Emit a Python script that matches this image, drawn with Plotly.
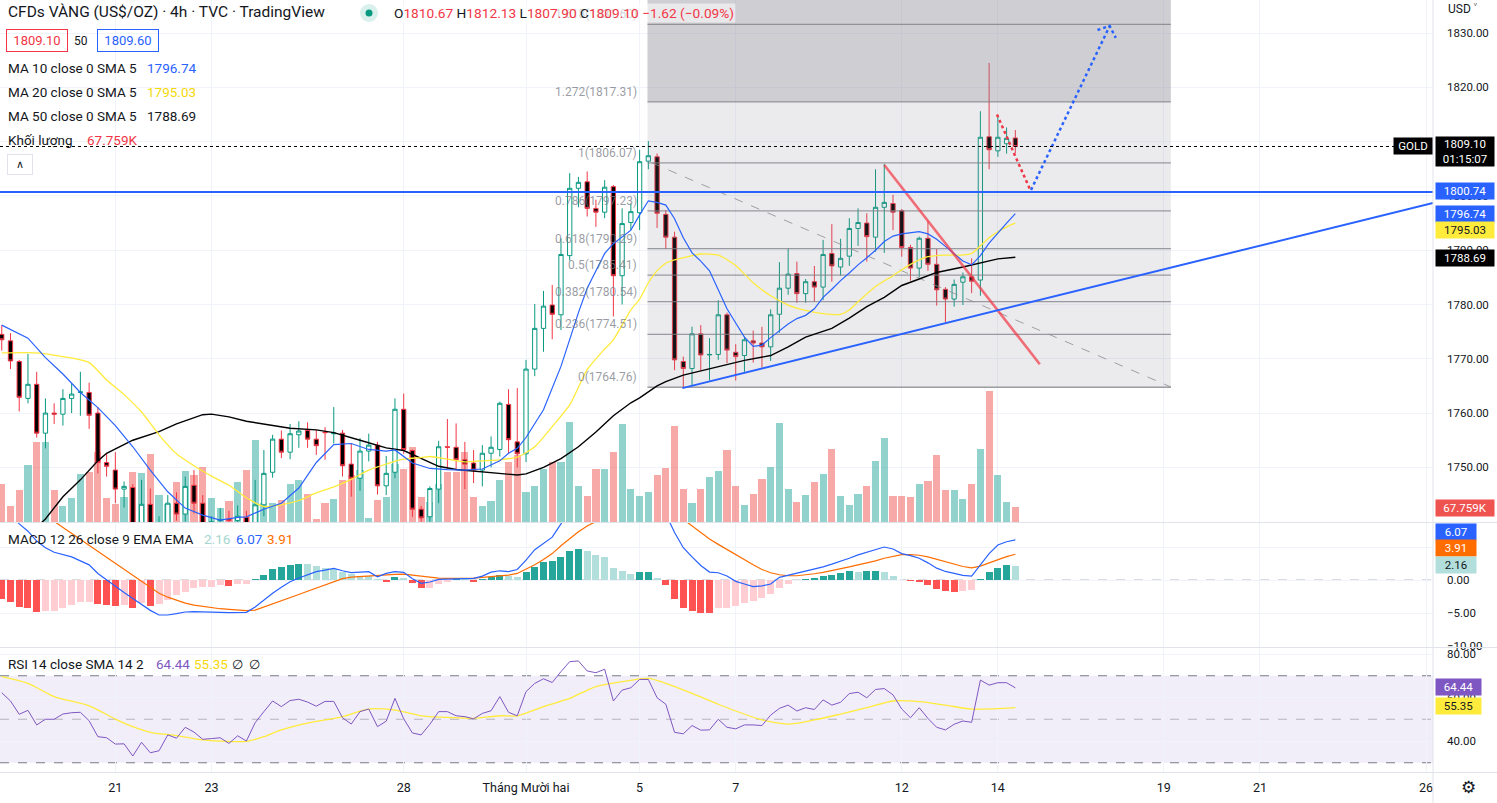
import plotly.graph_objects as go

W, H = 1497, 803
FONT = "Roboto, 'Noto Sans', sans-serif"

# ---------------- data ----------------
OPEN = [1774.5, 1773.3, 1769.5, 1762.7, 1765.3, 1756.3, 1760.0, 1759.8, 1762.7, 1763.8,
        1763.8, 1760.0, 1750.9, 1749.5, 1746.0, 1746.3, 1738.8, 1743.2, 1738.0, 1739.5,
        1743.4, 1741.4, 1746.7, 1743.4, 1739.5, 1740.2, 1740.5, 1740.2, 1740.8, 1738.8,
        1743.1, 1749.1, 1755.2, 1752.8, 1756.0, 1756.8, 1755.2, 1756.5, 1756.2, 1756.3,
        1750.6, 1748.0, 1753.0, 1754.1, 1746.6, 1749.1, 1760.7, 1753.1, 1742.3, 1740.9,
        1746.0, 1753.8, 1753.7, 1751.4, 1750.8, 1749.5, 1752.6, 1753.3, 1761.6, 1754.7,
        1752.5, 1768.1, 1775.6, 1779.9, 1778.1, 1789.0, 1801.4, 1802.6, 1797.7, 1797.0,
        1801.7, 1785.3, 1795.1, 1796.9, 1806.4, 1807.2, 1796.6, 1792.4, 1769.5, 1768.2,
        1774.6, 1770.7, 1770.8, 1778.1, 1771.2, 1770.6, 1773.3, 1772.9, 1772.2, 1778.2,
        1783.0, 1785.7, 1782.0, 1784.2, 1783.2, 1789.4, 1786.9, 1788.9, 1794.0, 1795.0,
        1792.4, 1797.9, 1798.6, 1797.3, 1790.5, 1786.7, 1792.2, 1787.4, 1782.8, 1781.0,
        1784.1, 1785.1, 1784.5, 1810.9, 1808.3, 1809.6, 1810.67]
HIGH = [1776.2, 1774.7, 1769.8, 1770.9, 1767.6, 1762.7, 1761.8, 1764.4, 1765.5, 1767.6,
        1765.6, 1761.1, 1752.6, 1752.8, 1747.4, 1746.9, 1747.7, 1746.1, 1741.0, 1744.9,
        1745.4, 1748.3, 1749.5, 1744.9, 1741.0, 1742.5, 1742.0, 1743.0, 1742.0, 1747.7,
        1753.2, 1756.0, 1756.8, 1758.0, 1758.5, 1758.3, 1756.9, 1757.4, 1761.1, 1756.9,
        1754.3, 1755.4, 1756.2, 1754.7, 1752.1, 1762.7, 1763.6, 1753.3, 1742.9, 1746.5,
        1754.9, 1758.9, 1758.1, 1754.7, 1753.2, 1754.1, 1755.7, 1762.1, 1764.4, 1764.6,
        1769.8, 1780.1, 1782.5, 1783.6, 1792.2, 1804.2, 1803.5, 1804.5, 1799.3, 1802.9,
        1802.0, 1797.7, 1798.6, 1808.5, 1810.1, 1807.8, 1797.4, 1793.4, 1770.4, 1775.9,
        1776.2, 1773.8, 1780.8, 1778.5, 1772.7, 1774.1, 1775.2, 1775.9, 1779.1, 1787.8,
        1790.3, 1787.9, 1784.7, 1787.1, 1791.9, 1794.8, 1792.1, 1795.9, 1797.7, 1796.8,
        1804.9, 1805.9, 1800.2, 1797.6, 1791.0, 1792.5, 1795.4, 1790.2, 1783.2, 1784.6,
        1785.9, 1788.5, 1815.6, 1824.5, 1814.6, 1812.6, 1812.13]
LOW = [1771.5, 1768.1, 1760.3, 1761.8, 1755.5, 1753.5, 1758.0, 1757.7, 1760.0, 1759.5,
       1757.1, 1748.9, 1748.3, 1743.4, 1742.6, 1736.0, 1737.5, 1736.5, 1736.0, 1738.0,
       1740.2, 1740.0, 1741.5, 1737.0, 1737.5, 1739.5, 1738.5, 1739.0, 1737.5, 1737.0,
       1741.0, 1748.1, 1751.7, 1751.5, 1753.6, 1753.6, 1752.3, 1751.4, 1754.4, 1748.3,
       1744.6, 1745.7, 1751.1, 1745.0, 1744.9, 1748.0, 1752.5, 1740.9, 1740.0, 1740.0,
       1743.4, 1749.8, 1749.4, 1746.0, 1747.1, 1746.5, 1750.0, 1752.0, 1752.5, 1750.0,
       1751.0, 1766.8, 1771.3, 1773.6, 1775.3, 1788.1, 1797.9, 1796.2, 1794.3, 1795.9,
       1777.8, 1780.0, 1793.7, 1793.7, 1804.9, 1794.1, 1790.2, 1767.9, 1764.6, 1764.9,
       1767.9, 1766.0, 1769.8, 1769.2, 1766.0, 1767.6, 1769.3, 1768.4, 1769.6, 1774.8,
       1781.8, 1780.3, 1780.3, 1780.5, 1780.8, 1784.2, 1785.3, 1787.1, 1790.8, 1787.9,
       1789.7, 1789.5, 1793.7, 1788.8, 1784.4, 1785.0, 1786.2, 1779.8, 1776.7, 1779.6,
       1779.9, 1782.1, 1781.6, 1804.9, 1807.2, 1807.8, 1807.90]
CLOSE = [1773.5, 1769.6, 1762.9, 1765.3, 1756.3, 1760.0, 1759.8, 1762.7, 1763.5, 1763.9,
         1759.6, 1750.9, 1750.2, 1746.0, 1746.5, 1738.5, 1743.2, 1738.0, 1739.5, 1743.4,
         1741.4, 1746.5, 1743.4, 1739.5, 1740.0, 1740.3, 1740.2, 1741.0, 1739.0, 1743.1,
         1748.9, 1755.2, 1752.8, 1756.2, 1756.7, 1755.2, 1754.0, 1756.4, 1756.3, 1750.3,
         1748.0, 1753.0, 1754.1, 1746.6, 1748.9, 1760.7, 1753.3, 1742.3, 1740.7, 1746.1,
         1753.8, 1753.7, 1751.4, 1750.6, 1749.5, 1752.6, 1753.7, 1761.8, 1755.1, 1752.5,
         1768.1, 1775.6, 1779.7, 1778.2, 1789.2, 1801.4, 1802.5, 1797.7, 1797.0, 1801.6,
         1785.3, 1794.9, 1797.1, 1806.3, 1807.4, 1796.8, 1792.4, 1769.8, 1768.2, 1774.6,
         1770.7, 1770.8, 1778.1, 1771.6, 1770.4, 1773.5, 1772.9, 1772.2, 1778.1, 1783.0,
         1785.6, 1782.0, 1784.2, 1783.2, 1789.2, 1787.1, 1788.5, 1794.0, 1795.1, 1792.5,
         1797.9, 1798.8, 1797.0, 1790.5, 1786.7, 1792.2, 1787.4, 1782.7, 1781.0, 1783.7,
         1785.1, 1784.3, 1810.8, 1808.5, 1810.8, 1810.6, 1809.10]
VOLUME_K = [171, 72, 144, 256, 360, 360, 144, 72, 108, 216,
            225, 315, 108, 81, 112, 225, 220, 306, 121, 81,
            180, 229, 211, 247, 108, 63, 94, 180, 234, 369,
            85, 85, 99, 171, 189, 126, 14, 85, 103, 189,
            211, 234, 18, 99, 112, 261, 238, 337, 112, 90,
            171, 225, 225, 315, 112, 72, 94, 189, 270, 301,
            135, 162, 238, 270, 270, 450, 162, 117, 238, 238,
            315, 441, 148, 117, 135, 211, 243, 432, 148, 85,
            148, 202, 229, 324, 162, 76, 126, 193, 247, 445,
            148, 90, 121, 180, 216, 328, 117, 76, 126, 162,
            274, 378, 117, 117, 112, 171, 184, 301, 144, 144,
            103, 171, 328, 589, 211, 90, 67.759]

MA10_X = [0, 3, 5, 7, 9, 11, 13, 15, 17, 19, 21, 23, 25, 27, 28, 30, 32, 34, 36, 38,
          40, 42, 44, 45, 47, 49, 51, 53, 55, 57, 58, 59, 60, 61, 62, 64, 66, 67, 69, 70,
          71, 72, 73, 74, 75, 76, 77, 78, 79, 80, 81, 82, 83, 84, 85, 86, 87, 88, 89, 90,
          91, 92, 93, 94, 95, 96, 97, 98, 99, 100, 101, 102, 103, 104, 105, 106, 107, 108,
          109, 110, 111, 112, 113, 114, 115, 116]
MA10 = [1776.2, 1773.8, 1770.2, 1767.2, 1763.8, 1761.0, 1757.7, 1753.8, 1749.5, 1745.5,
        1742.5, 1741.2, 1740.3, 1740.8, 1740.9, 1742.3, 1743.4, 1746.2, 1750.9, 1754.2,
        1754.4, 1753.3, 1753.0, 1753.2, 1750.8, 1749.8, 1749.6, 1749.5, 1749.7, 1751.2,
        1752.6, 1753.5, 1755.5, 1758.0, 1760.6, 1768.6, 1778.5, 1783.0, 1789.4, 1791.2,
        1792.5, 1793.7, 1796.5, 1799.1, 1798.8, 1798.3, 1795.8, 1792.3, 1789.5, 1788.0,
        1786.2, 1782.8, 1779.2, 1776.6, 1774.0, 1772.3, 1772.5, 1773.9, 1775.2, 1776.4,
        1777.4, 1778.0, 1779.2, 1781.3, 1782.8, 1784.4, 1785.8, 1787.3, 1788.6, 1790.0,
        1791.6, 1792.6, 1793.0, 1793.2, 1793.4, 1793.0, 1792.0, 1790.7, 1789.3, 1788.0,
        1787.3, 1789.0, 1791.3, 1793.2, 1795.0, 1796.74]
MA20_X = [0, 4, 7, 10, 12, 14, 16, 18, 20, 22, 24, 26, 28, 30, 32, 34, 36, 38, 40, 42,
          44, 46, 48, 49, 51, 53, 55, 57, 59, 61, 63, 65, 67, 69, 70, 72, 73, 74, 75, 76,
          77, 78, 80, 82, 84, 86, 88, 90, 92, 94, 96, 97, 98, 100, 102, 104, 106, 108, 110,
          111, 112, 113, 114, 115, 116]
MA20 = [1771.1, 1771.1, 1770.4, 1769.3, 1766.1, 1763.4, 1760.2, 1756.0, 1752.5, 1750.3,
        1748.4, 1746.7, 1744.4, 1742.8, 1743.1, 1743.9, 1745.3, 1746.4, 1747.8, 1749.5,
        1750.6, 1751.5, 1751.8, 1752.0, 1751.5, 1751.0, 1751.2, 1751.4, 1751.9, 1753.8,
        1757.5, 1761.5, 1768.0, 1771.8, 1773.5, 1779.0, 1781.0, 1784.0, 1786.2, 1787.6,
        1788.2, 1788.6, 1789.3, 1789.1, 1787.2, 1784.0, 1781.6, 1779.9, 1778.9, 1778.3,
        1778.2, 1779.0, 1780.5, 1783.3, 1785.3, 1787.4, 1788.8, 1789.1, 1789.1, 1789.4,
        1790.8, 1792.3, 1793.4, 1794.3, 1795.03]
MA50_X = [0, 2, 4, 5, 7, 9, 11, 12, 15, 18, 20, 23, 24, 26, 28, 31, 33, 36, 38, 41,
          43, 44, 46, 48, 50, 52, 55, 57, 59, 60, 62, 64, 66, 68, 70, 72, 73, 75, 76, 78,
          81, 83, 85, 88, 90, 92, 95, 97, 99, 101, 103, 105, 107, 110, 112, 114, 116]
MA50 = [1733.0, 1736.0, 1739.0, 1740.5, 1744.6, 1747.7, 1751.2, 1752.6, 1755.0, 1756.6,
        1758.0, 1759.7, 1759.8, 1759.3, 1758.5, 1757.7, 1757.2, 1756.9, 1756.4, 1755.0,
        1754.1, 1753.6, 1753.1, 1751.6, 1750.2, 1749.6, 1749.2, 1748.9, 1748.6, 1748.8,
        1750.0, 1751.6, 1753.8, 1756.5, 1759.5, 1761.9, 1762.8, 1765.0, 1765.8, 1767.0,
        1768.2, 1768.9, 1769.7, 1770.6, 1772.2, 1774.0, 1775.6, 1777.5, 1779.6, 1781.3,
        1783.5, 1784.7, 1785.9, 1786.9, 1787.7, 1788.4, 1788.69]

MACD = [10.9, 9.9, 8.5, 7.4, 5.9, 4.9, 4.2, 3.8, 3.5, 2.9,
        2.3, 1.0, 0.0, -1.0, -1.9, -2.8, -3.7, -4.6, -5.3, -5.3,
        -5.1, -4.85, -4.8, -4.8, -4.9, -4.9, -4.95, -4.95, -4.9, -4.1,
        -3.0, -2.0, -1.1, -0.25, 0.3, 0.76, 1.26, 1.5, 1.77, 1.4,
        1.11, 1.2, 1.26, 0.5, 1.0, 1.26, 1.16, 0.2, -0.5, -0.3,
        0.1, 0.15, 0.15, 0.2, 0.25, 0.6, 1.2, 1.4, 1.26, 1.6,
        3.0, 4.6, 5.6, 6.5, 8.5, 10.8, 12.1, 12.7, 12.8, 13.0,
        11.8, 11.6, 11.3, 11.8, 12.05, 11.2, 10.0, 7.2, 4.9, 3.5,
        2.2, 1.2, 1.1, 0.6, -0.2, -0.6, -1.0, -0.9, -0.6, 0.4,
        0.7, 1.0, 1.3, 1.7, 2.0, 2.4, 2.8, 3.3, 3.8, 4.2,
        4.6, 5.0, 4.7, 4.0, 3.7, 3.3, 2.6, 1.8, 1.3, 1.0,
        0.7, 0.6, 2.3, 4.0, 5.3, 5.8, 6.07]
SIGNAL = [13.8, 13.2, 12.5, 11.6, 10.7, 9.7, 8.8, 7.9, 7.0, 6.2,
          5.3, 4.4, 3.4, 2.5, 1.6, 0.7, -0.2, -1.1, -2.0, -2.6,
          -3.1, -3.5, -3.8, -4.0, -4.2, -4.35, -4.45, -4.55, -4.65, -4.55,
          -4.1, -3.6, -3.1, -2.7, -2.2, -1.7, -1.2, -0.8, -0.2, 0.2,
          0.45, 0.55, 0.65, 0.7, 0.75, 0.85, 0.9, 0.75, 0.55, 0.4,
          0.3, 0.25, 0.25, 0.25, 0.3, 0.4, 0.5, 0.6, 0.75, 1.0,
          1.6, 2.3, 3.1, 4.0, 5.2, 6.3, 7.3, 8.2, 8.9, 9.5,
          9.9, 10.2, 10.4, 10.6, 10.8, 10.9, 10.7, 10.1, 9.2, 8.2,
          7.2, 6.2, 5.4, 4.6, 3.9, 3.0, 2.3, 1.6, 1.1, 0.8,
          0.65, 0.65, 0.75, 0.95, 1.15, 1.4, 1.7, 2.0, 2.3, 2.55,
          2.9, 3.3, 3.6, 3.85, 3.85, 3.75, 3.5, 3.15, 2.8, 2.4,
          2.05, 1.85, 2.1, 2.6, 3.1, 3.55, 3.91]
HIST = [-2.88, -3.29, -4.04, -4.24, -4.8, -4.75, -4.65, -4.24, -3.79, -3.33,
        -3.32, -3.64, -3.79, -3.94, -3.84, -4.24, -3.54, -3.89, -3.64, -3.03,
        -2.32, -1.77, -1.26, -1.11, -1.01, -0.76, -0.91, -0.61, -0.60, 0.15,
        0.76, 1.62, 1.97, 2.32, 2.47, 2.42, 2.12, 1.87, 1.62, 1.21,
        0.86, 0.66, 0.61, 0.10, -0.25, 0.45, 0.25, -0.5, -1.16, -1.15,
        -0.61, -0.25, 0.15, 0.10, -0.25, 0.15, 0.40, 0.76, 0.61, 0.5,
        1.14, 2.0, 2.77, 2.92, 3.55, 4.47, 4.77, 4.47, 3.85, 3.55,
        1.85, 1.4, 0.93, 1.24, 1.25, 0.26, -0.71, -2.87, -4.26, -4.72,
        -5.03, -5.04, -4.26, -4.25, -3.95, -3.49, -3.18, -2.72, -2.1, -1.18,
        -0.56, 0.05, 0.21, 0.36, 0.67, 0.77, 1.13, 1.39, 1.29, 1.39,
        1.40, 1.29, 0.62, 0.05, -0.1, -0.3, -0.8, -1.4, -1.66, -1.8,
        -1.66, -1.5, 0.21, 1.29, 1.85, 2.3, 2.16]
HIST_BEFORE_FIRST = -2.6

RSI = [62.2, 58.4, 52.3, 54.1, 47.4, 50.0, 50.0, 52.4, 53.0, 53.2,
       49.3, 42.0, 41.5, 38.6, 38.7, 33.1, 39.4, 34.6, 35.5, 42.8,
       41.3, 46.3, 44.1, 40.8, 41.1, 41.5, 38.9, 42.4, 40.0, 48.4,
       53.5, 58.4, 55.8, 58.6, 59.2, 57.9, 56.0, 58.2, 58.2, 50.7,
       47.8, 53.5, 54.7, 46.6, 49.1, 59.6, 50.2, 43.7, 42.8, 47.7,
       53.5, 53.5, 51.6, 51.2, 50.2, 52.7, 53.9, 60.4, 53.2, 51.6,
       62.7, 66.5, 68.6, 66.9, 71.9, 76.5, 76.8, 72.2, 71.4, 73.0,
       58.4, 63.4, 64.5, 68.3, 68.3, 59.9, 56.9, 44.0, 43.3, 47.1,
       45.0, 45.1, 50.0, 46.3, 45.6, 47.4, 47.4, 47.1, 51.9, 55.0,
       56.5, 53.8, 55.3, 54.5, 58.9, 56.5, 57.8, 61.8, 62.4, 59.9,
       63.7, 64.1, 61.2, 54.7, 50.7, 55.3, 50.4, 46.3, 45.1, 47.7,
       49.2, 48.6, 68.0, 65.7, 66.8, 66.8, 64.44]
RSI_SMA_X = [0, 3, 6, 10, 13, 15, 17, 20, 23, 26, 28, 30, 32, 35, 39, 42, 45, 48, 51, 54,
             57, 59, 62, 65, 68, 71, 74, 76, 79, 82, 84, 87, 90, 93, 96, 99, 102, 105, 108,
             111, 116]
RSI_SMA = [69.6, 66.5, 60.4, 56.2, 50.1, 46.6, 44.0, 42.5, 40.5, 39.8, 39.8, 42.0, 45.1,
           48.2, 51.2, 54.7, 54.2, 51.6, 50.9, 50.4, 51.6, 51.6, 55.8, 59.6, 65.0, 67.3,
           68.8, 66.5, 61.9, 56.9, 53.8, 49.7, 47.8, 49.7, 52.4, 55.3, 58.4, 58.1, 56.5,
           54.7, 55.35]

DATE_TICK_IDX = [13, 24, 46, 60, 73, 84, 103, 114, 133, 144, 163]
DATE_TICK_TEXT = ["21", "23", "28", "Tháng Mười hai", "5", "7", "12", "14", "19", "21", "26"]
PRICE_TICKS = [1750, 1760, 1770, 1780, 1790, 1800, 1810, 1820, 1830]

FIB_LOW, FIB_HIGH = 1764.76, 1806.07
FIB_LEVELS = [0, 0.236, 0.382, 0.5, 0.618, 0.786, 1, 1.272, 1.618]
FIB_NAMES = ["0", "0.236", "0.382", "0.5", "0.618", "0.786", "1", "1.272", "1.618"]
FIB_X = [73.9, 133.8]
FIB_TOP = 1860

HLINE_PRICE = 1800.74
LAST_PRICE = 1809.10
BLUE_TL_X, BLUE_TL_Y = [77.9, 163.8], [1764.6, 1798.7]
RED_TL_X, RED_TL_Y = [101.0, 118.8], [1805.7, 1769.0]
GRAY_TL_X, GRAY_TL_Y = [74.4, 133.8], [1806.1, 1764.8]
RED_PATH_X, RED_PATH_Y = [113.9, 117.7], [1815.0, 1801.1]
BLUE_PATH_X, BLUE_PATH_Y = [117.8, 126.8], [1801.1, 1831.3]
BLUE_HEAD_X, BLUE_HEAD_Y = [125.4, 126.8, 127.5], [1830.55, 1831.3, 1829.1]

N = len(CLOSE)
for arr in (OPEN, HIGH, LOW, VOLUME_K, MACD, SIGNAL, HIST, RSI):
    assert len(arr) == N, len(arr)
assert len(MA10_X) == len(MA10) and len(MA20_X) == len(MA20) and len(MA50_X) == len(MA50)
assert len(RSI_SMA_X) == len(RSI_SMA)
X = list(range(N))

# ---------------- colours ----------------
UP, DN = "#089981", "#F23645"
GRID = "#F0F3FA"
SEP = "#E0E3EB"
TXT = "#131722"

vol_colors = ["rgba(38,166,154,0.5)" if c >= o else "rgba(239,83,80,0.5)" for o, c in zip(OPEN, CLOSE)]
hist_colors = []
prev = HIST_BEFORE_FIRST
for v in HIST:
    if v >= 0:
        hist_colors.append("#26A69A" if v >= prev else "#B2DFDB")
    else:
        hist_colors.append("#FF5252" if v < prev else "#FFCDD2")
    prev = v

# ---------------- geometry ----------------
XD = 1433 / W
XR = [-0.2, 163.8]


def dom(top, bot):
    return [1 - bot / H, 1 - top / H]


fig = go.Figure()

# volume (base axis of main pane, drawn beneath everything else)
fig.add_trace(go.Bar(x=X, y=VOLUME_K, marker=dict(color=vol_colors, line=dict(width=0)),
                     width=0.82, xaxis="x", yaxis="y", hoverinfo="skip"))

# fib retracement background + levels (drawn before the candles)
fib_prices = [FIB_LOW + l * (FIB_HIGH - FIB_LOW) for l in FIB_LEVELS]
fx0, fx1 = FIB_X
fig.add_trace(go.Scatter(x=[fx0, fx1, fx1, fx0, fx0], y=[fib_prices[0], fib_prices[0], fib_prices[7], fib_prices[7], fib_prices[0]],
                         mode="lines", fill="toself", fillcolor="rgba(128,128,140,0.16)", line=dict(width=0),
                         xaxis="x", yaxis="y2", hoverinfo="skip"))
fig.add_trace(go.Scatter(x=[fx0, fx1, fx1, fx0, fx0], y=[fib_prices[7], fib_prices[7], FIB_TOP, FIB_TOP, fib_prices[7]],
                         mode="lines", fill="toself", fillcolor="rgba(128,128,140,0.38)", line=dict(width=0),
                         xaxis="x", yaxis="y2", hoverinfo="skip"))
lx, ly = [], []
for p in fib_prices:
    lx += [fx0, fx1, None]
    ly += [p, p, None]
fig.add_trace(go.Scatter(x=lx, y=ly, mode="lines", line=dict(color="rgba(125,125,135,0.75)", width=1.3),
                         xaxis="x", yaxis="y2", hoverinfo="skip"))
fig.add_trace(go.Scatter(x=GRAY_TL_X, y=GRAY_TL_Y, mode="lines",
                         line=dict(color="rgba(140,140,145,0.8)", width=1, dash="dash"),
                         xaxis="x", yaxis="y2", hoverinfo="skip"))

# candles
fig.add_trace(go.Candlestick(x=X, open=OPEN, high=HIGH, low=LOW, close=CLOSE,
                             xaxis="x", yaxis="y2", whiskerwidth=0,
                             increasing=dict(line=dict(color=UP, width=1), fillcolor="#FFFFFF"),
                             decreasing=dict(line=dict(color=DN, width=1), fillcolor="#000000"),
                             hoverinfo="skip"))
# moving averages
fig.add_trace(go.Scatter(x=MA50_X, y=MA50, mode="lines", line=dict(color="#000000", width=1.4),
                         xaxis="x", yaxis="y2", hoverinfo="skip"))
fig.add_trace(go.Scatter(x=MA20_X, y=MA20, mode="lines", line=dict(color="#FFEB3B", width=1.3, shape="spline", smoothing=0.6),
                         xaxis="x", yaxis="y2", hoverinfo="skip"))
fig.add_trace(go.Scatter(x=MA10_X, y=MA10, mode="lines", line=dict(color="#2962FF", width=1.2),
                         xaxis="x", yaxis="y2", hoverinfo="skip"))
# drawings
fig.add_trace(go.Scatter(x=RED_TL_X, y=RED_TL_Y, mode="lines", line=dict(color="rgba(242,54,69,0.7)", width=2.6),
                         xaxis="x", yaxis="y2", hoverinfo="skip"))
fig.add_trace(go.Scatter(x=BLUE_TL_X, y=BLUE_TL_Y, mode="lines", line=dict(color="#2962FF", width=2),
                         xaxis="x", yaxis="y2", hoverinfo="skip"))
fig.add_trace(go.Scatter(x=RED_PATH_X, y=RED_PATH_Y, mode="lines",
                         line=dict(color="#F23645", width=2.5, dash="dot"), xaxis="x", yaxis="y2", hoverinfo="skip"))
fig.add_trace(go.Scatter(x=BLUE_PATH_X, y=BLUE_PATH_Y, mode="lines",
                         line=dict(color="#2962FF", width=2.5, dash="dot"), xaxis="x", yaxis="y2", hoverinfo="skip"))
fig.add_trace(go.Scatter(x=BLUE_HEAD_X, y=BLUE_HEAD_Y, mode="lines",
                         line=dict(color="#2962FF", width=2.5, dash="dot"), xaxis="x", yaxis="y2", hoverinfo="skip"))

# MACD
fig.add_trace(go.Bar(x=X, y=HIST, marker=dict(color=hist_colors, line=dict(width=0)), width=0.8,
                     xaxis="x2", yaxis="y3", hoverinfo="skip"))
fig.add_trace(go.Scatter(x=X, y=SIGNAL, mode="lines", line=dict(color="#FF6D00", width=1.2),
                         xaxis="x2", yaxis="y3", hoverinfo="skip"))
fig.add_trace(go.Scatter(x=X, y=MACD, mode="lines", line=dict(color="#2962FF", width=1.2),
                         xaxis="x2", yaxis="y3", hoverinfo="skip"))

# RSI
fig.add_trace(go.Scatter(x=RSI_SMA_X, y=RSI_SMA, mode="lines",
                         line=dict(color="#FFEB3B", width=1.3, shape="spline", smoothing=0.8),
                         xaxis="x3", yaxis="y4", hoverinfo="skip"))
fig.add_trace(go.Scatter(x=X, y=RSI, mode="lines", line=dict(color="#7E57C2", width=1),
                         xaxis="x3", yaxis="y4", hoverinfo="skip"))

shapes = []
# RSI band and levels
shapes.append(dict(type="rect", xref="x3 domain", yref="y4", x0=0, x1=1, y0=30, y1=70,
                   fillcolor="rgba(126,87,194,0.1)", line=dict(width=0), layer="below"))
for lvl, col in ((70, "#787B86"), (50, "rgba(120,123,134,0.5)"), (30, "#787B86")):
    shapes.append(dict(type="line", xref="x3 domain", yref="y4", x0=0, x1=1, y0=lvl, y1=lvl,
                       line=dict(color=col, width=1, dash="dash"), layer="below"))
# MACD zero line
shapes.append(dict(type="line", xref="x2 domain", yref="y3", x0=0, x1=1, y0=0, y1=0,
                   line=dict(color="rgba(120,123,134,0.55)", width=1, dash="dash"), layer="below"))
# horizontal price lines
shapes.append(dict(type="line", xref="x domain", yref="y2", x0=0, x1=1, y0=HLINE_PRICE, y1=HLINE_PRICE,
                   line=dict(color="#2962FF", width=2)))
shapes.append(dict(type="line", xref="x domain", yref="y2", x0=0, x1=0.973, y0=LAST_PRICE, y1=LAST_PRICE,
                   line=dict(color="#000000", width=1, dash="dot")))
# pane separators
for yy in (522.5, 647.5, 772.5):
    shapes.append(dict(type="line", xref="paper", yref="paper", x0=0, x1=1, y0=1 - yy / H, y1=1 - yy / H,
                       line=dict(color=SEP, width=1)))
shapes.append(dict(type="line", xref="paper", yref="paper", x0=XD, x1=XD, y0=0, y1=1,
                   line=dict(color=SEP, width=1)))
# live dot in header
shapes.append(dict(type="circle", xref="paper", yref="paper", x0=360 / W, x1=378 / W, y0=1 - 22 / H,
                   y1=1 - 4 / H, fillcolor="rgba(8,153,129,0.15)", line=dict(width=0)))
shapes.append(dict(type="circle", xref="paper", yref="paper", x0=365.5 / W, x1=372.5 / W, y0=1 - 16.5 / H,
                   y1=1 - 9.5 / H, fillcolor="#089981", line=dict(width=0)))

ann = []


def T(text, x, y, size=13, color=TXT, xanchor="left", **kw):
    d = dict(text=text, x=x / W, y=1 - y / H, xref="paper", yref="paper", xanchor=xanchor,
             yanchor="middle", showarrow=False, font=dict(size=size, color=color, family=FONT))
    d.update(kw)
    return d


def box(text, y, bg, fg="#FFFFFF", w=56, h=14, x0=1435):
    return dict(text=text, x=x0 / W, y=1 - y / H, xref="paper", yref="paper", xanchor="left",
                yanchor="middle", showarrow=False, bgcolor=bg, width=w, height=h, align="center",
                borderpad=1, font=dict(size=11.5, color=fg, family=FONT))


# fib labels
for name, p in zip(FIB_NAMES, fib_prices):
    ann.append(dict(text=f"{name}({p:.2f})", x=72.9, y=p, xref="x", yref="y2", xanchor="right",
                    yanchor="bottom", yshift=1, showarrow=False,
                    font=dict(size=12, color="rgba(120,123,134,0.75)", family=FONT)))

# header / legends
ann.append(T("CFDs VÀNG (US$/OZ) · 4h · TVC · TradingView", 6, 12, size=15.5))
R = "#F23645"
ohlc = (f"O<span style='color:{R}'>1810.67</span> H<span style='color:{R}'>1812.13</span> "
        f"L<span style='color:{R}'>1807.90</span> C<span style='color:{R}'>1809.10</span> "
        f"<span style='color:{R}'>−1.62 (−0.09%)</span>")
ann.append(T(ohlc, 392, 13, size=13.7, bgcolor="rgba(255,255,255,0.55)"))
ann.append(T("1809.10", 37, 41, size=13, color=R, xanchor="center", bordercolor=R, borderwidth=1,
             borderpad=3, width=54))
ann.append(T("50", 81, 41, size=12, xanchor="center"))
ann.append(T("1809.60", 127.5, 41, size=13, color="#2962FF", xanchor="center", bordercolor="#2962FF",
             borderwidth=1, borderpad=3, width=54))
for lab, val, col, yy, vx in (("MA 10 close 0 SMA 5", "1796.74", "#2962FF", 68, 145),
                              ("MA 20 close 0 SMA 5", "1795.03", "#F5D90A", 92, 145),
                              ("MA 50 close 0 SMA 5", "1788.69", TXT, 116, 145),
                              ("Khối lượng", "67.759K", R, 140, 85)):
    ann.append(T(lab, 6, yy, size=13.5))
    ann.append(T(val, vx, yy, size=13.5, color=col))
ann.append(T("∧", 20, 165, size=11, xanchor="center", bordercolor=SEP, borderwidth=1, borderpad=3, width=18))
ann.append(T("MACD 12 26 close 9 EMA EMA", 6, 539, size=13.5))
ann.append(T("2.16", 202, 539, size=13.5, color="#A5D6D0"))
ann.append(T("6.07", 234, 539, size=13.5, color="#2962FF"))
ann.append(T("3.91", 265, 539, size=13.5, color="#FF6D00"))
ann.append(T("RSI 14 close SMA 14 2", 6, 664, size=13.5))
ann.append(T("64.44", 154, 664, size=13.5, color="#7E57C2"))
ann.append(T("55.35", 192, 664, size=13.5, color="#F5D90A"))
ann.append(T("∅  ∅", 230, 664, size=13))
ann.append(T("USD ˅", 1446, 9, size=12))
ann.append(T("⚙", 1468, 787, size=17, xanchor="center"))

# price-scale value labels
ann.append(dict(text="GOLD", x=1393 / W, y=1 - 146 / H, xref="paper", yref="paper", xanchor="left",
                yanchor="middle", showarrow=False, bgcolor="#000000", width=36, height=14, borderpad=1,
                font=dict(size=11.5, color="#FFFFFF", family=FONT)))
ann.append(box("1809.10<br>01:15:07", 151.5, "#000000", h=27))
ann.append(box("1800.74", 191, "#2962FF"))
ann.append(box("1796.74", 214, "#2962FF"))
ann.append(box("1795.03", 230, "#FFEB3B", fg=TXT))
ann.append(box("1788.69", 258, "#000000"))
ann.append(box("67.759K", 508, "#EF5350"))
ann.append(box("6.07", 532, "#2962FF", w=38))
ann.append(box("3.91", 548, "#FF6D00", w=38))
ann.append(box("2.16", 565, "#B2DFDB", fg=TXT, w=38))
ann.append(box("64.44", 687, "#7E57C2", w=43))
ann.append(box("55.35", 706, "#FFEB3B", fg=TXT, w=43))

axis_common = dict(showline=False, zeroline=False, fixedrange=True, automargin=False)
fig.update_layout(
    width=W, height=H, margin=dict(l=0, r=0, t=0, b=0, pad=0, autoexpand=False),
    paper_bgcolor="#FFFFFF", plot_bgcolor="#FFFFFF", showlegend=False,
    font=dict(family=FONT, size=12, color=TXT),
    hovermode=False, bargap=0,
    xaxis=dict(domain=[0, XD], anchor="y", range=XR, tickvals=DATE_TICK_IDX, showticklabels=False,
               showgrid=True, gridcolor=GRID, rangeslider=dict(visible=False), ticks="", **axis_common),
    xaxis2=dict(domain=[0, XD], anchor="y3", range=XR, matches="x", tickvals=DATE_TICK_IDX,
                showticklabels=False, showgrid=True, gridcolor=GRID, ticks="", **axis_common),
    xaxis3=dict(domain=[0, XD], anchor="y4", range=XR, matches="x", tickvals=DATE_TICK_IDX,
                ticktext=DATE_TICK_TEXT, showticklabels=True, showgrid=True, gridcolor=GRID, ticks="",
                tickfont=dict(size=12.5, color=TXT), ticklabelstandoff=6, **axis_common),
    yaxis=dict(domain=dom(0, 522), range=[0, 2349], visible=False, **axis_common),
    yaxis2=dict(overlaying="y", anchor="x", side="right", range=[1739.94, 1836.08], tickvals=PRICE_TICKS,
                ticktext=[f"{v:.2f}" for v in PRICE_TICKS], showgrid=True, gridcolor=GRID, ticks="",
                tickfont=dict(size=11.5, color=TXT), ticklabelstandoff=13, **axis_common),
    yaxis3=dict(domain=dom(523, 647), anchor="x2", side="right", range=[-10.15, 8.64],
                tickvals=[-10, -5, 0, 5], ticktext=["−10.00", "−5.00", "0.00", ""], showgrid=True,
                gridcolor=GRID, ticks="", tickfont=dict(size=11.5, color=TXT), ticklabelstandoff=13, **axis_common),
    yaxis4=dict(domain=dom(648, 772), anchor="x3", side="right", range=[25.75, 82.76],
                tickvals=[40, 60, 80], ticktext=["40.00", "60.00", "80.00"], showgrid=True, gridcolor=GRID,
                ticks="", tickfont=dict(size=11.5, color=TXT), ticklabelstandoff=13, **axis_common),
    shapes=shapes, annotations=ann,
)

fig.write_html("out.html", config={"displayModeBar": False, "staticPlot": True, "responsive": False})
